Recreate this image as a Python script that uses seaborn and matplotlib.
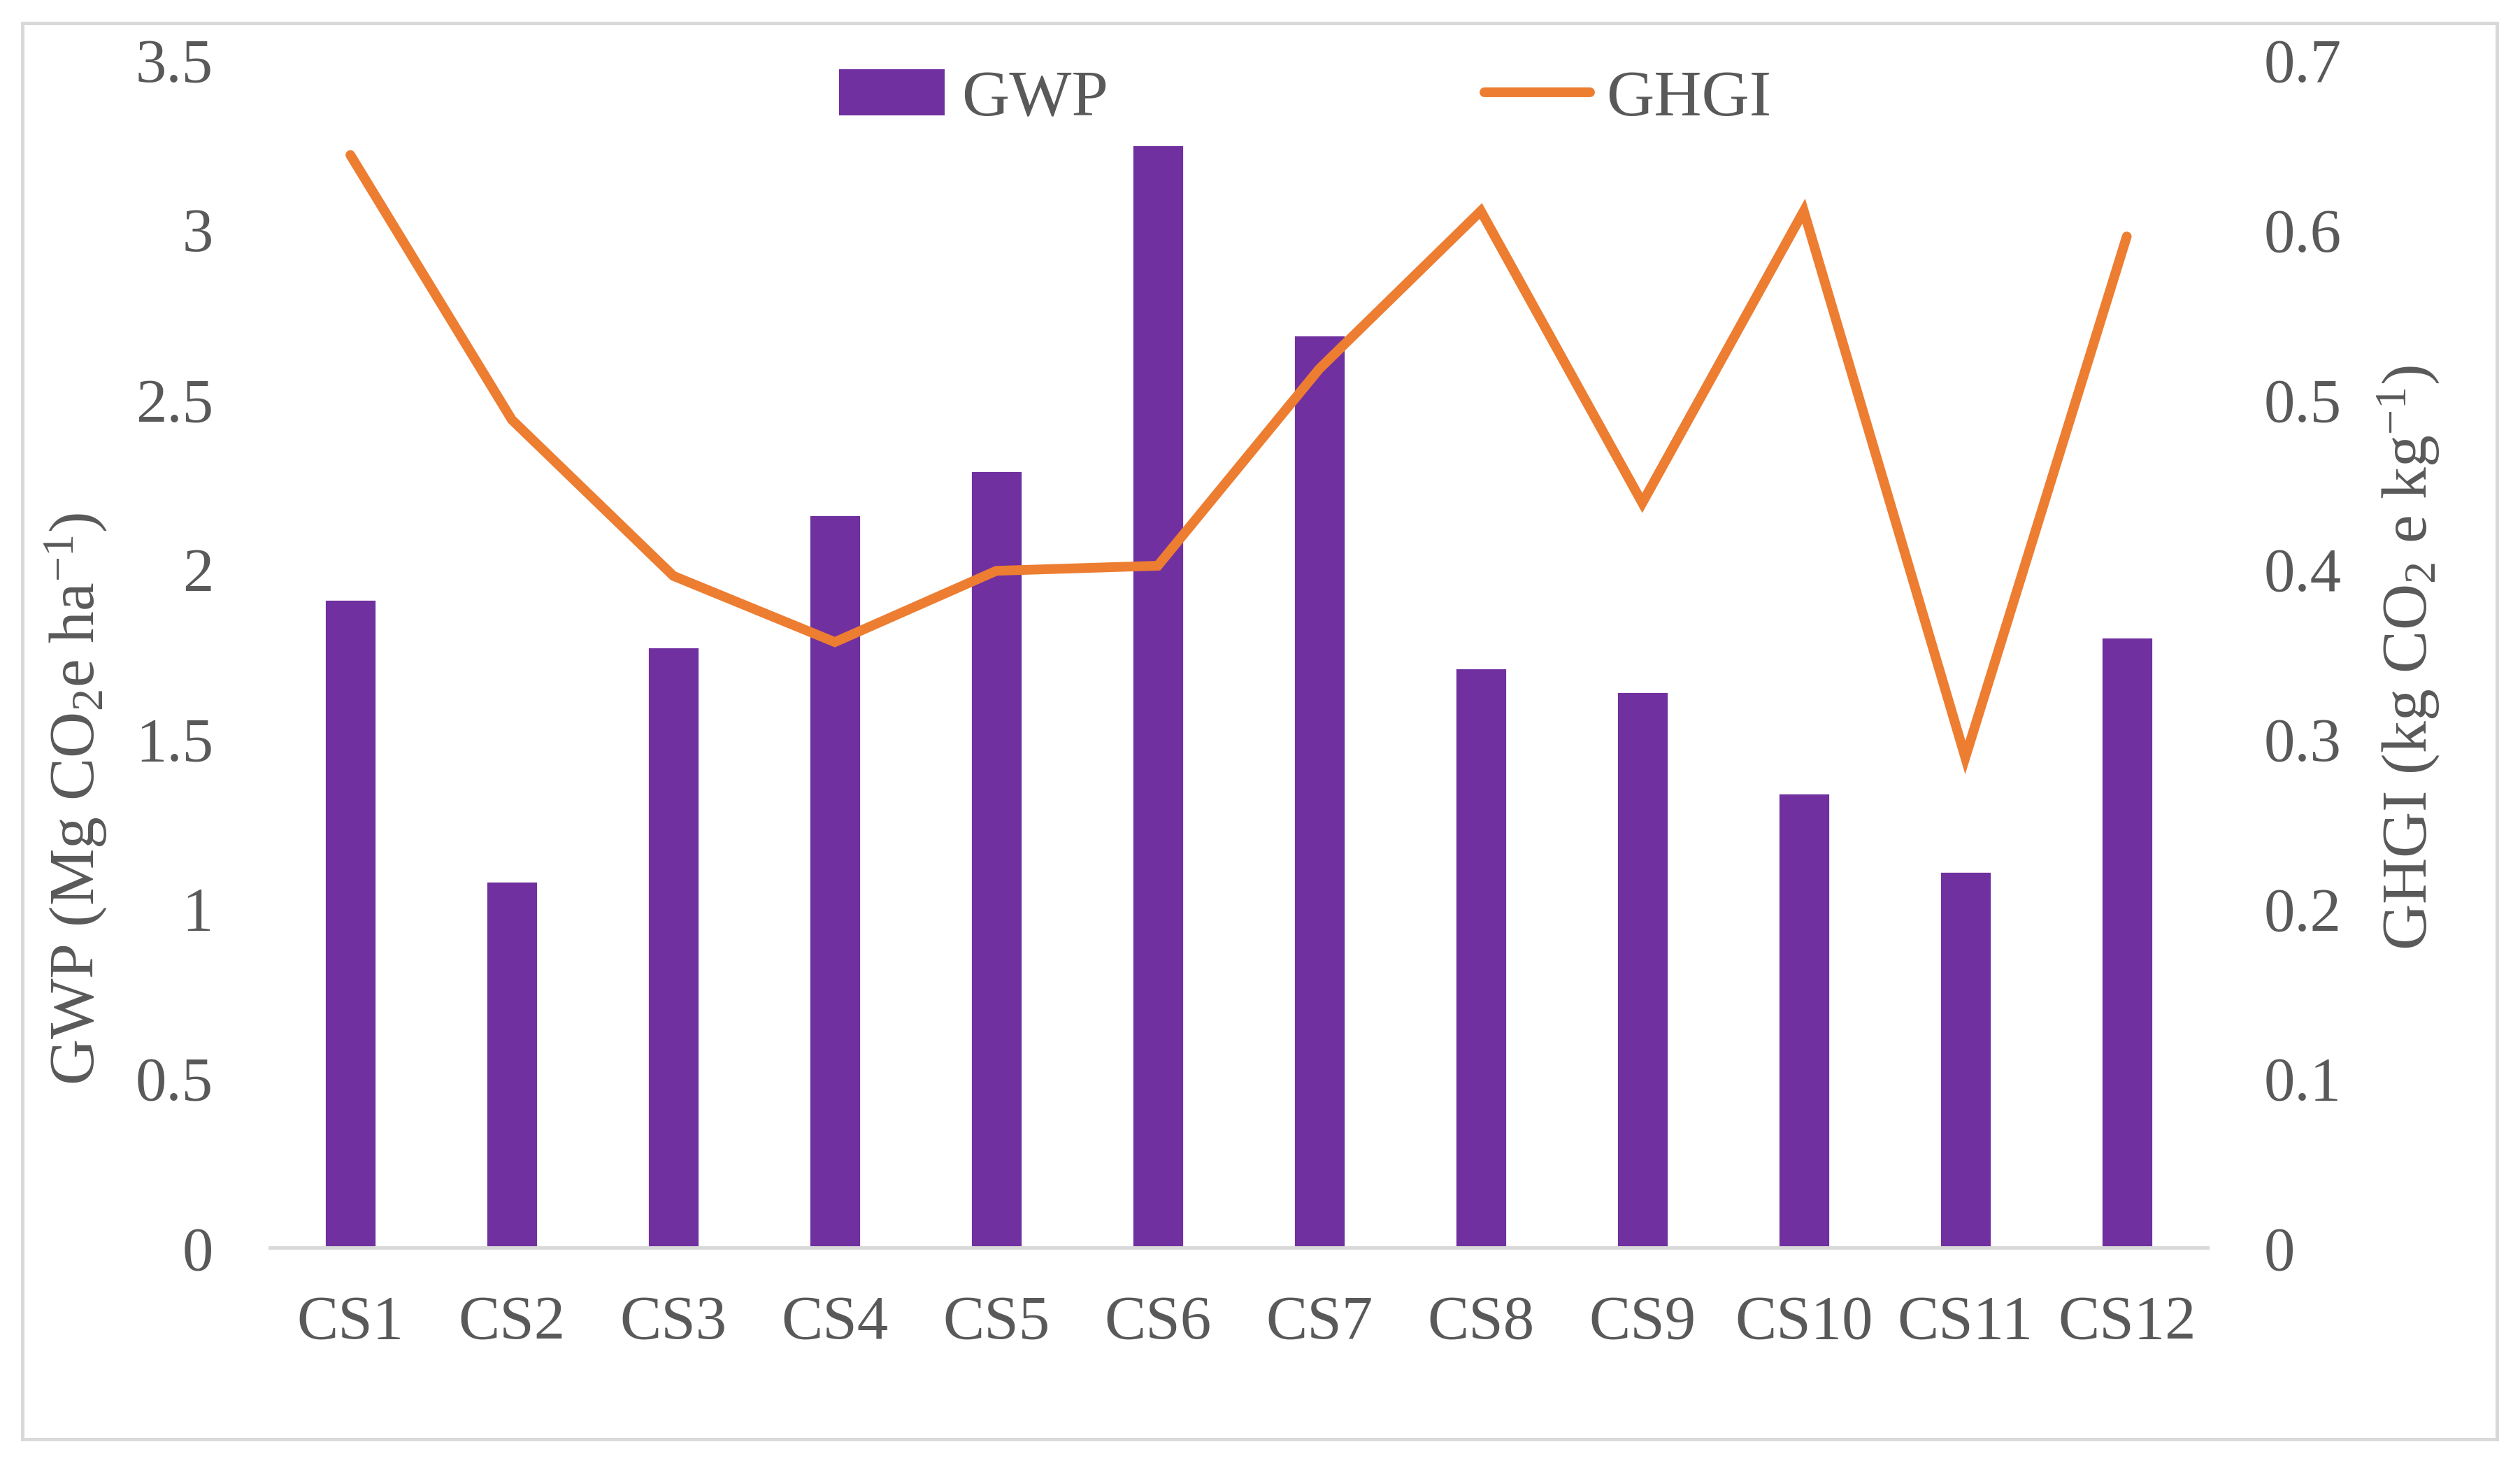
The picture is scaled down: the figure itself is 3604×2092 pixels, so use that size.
import numpy as np
import pandas as pd
import matplotlib.pyplot as plt
import seaborn as sns
from matplotlib.patches import Patch, Rectangle
from matplotlib.lines import Line2D
from matplotlib.ticker import FuncFormatter

# values
systems = ['CS1', 'CS2', 'CS3', 'CS4', 'CS5', 'CS6', 'CS7', 'CS8', 'CS9', 'CS10', 'CS11', 'CS12']
gwp = [1.91, 1.08, 1.77, 2.16, 2.29, 3.25, 2.69, 1.71, 1.64, 1.34, 1.11, 1.80]
ghgi = [0.644, 0.488, 0.396, 0.357, 0.399, 0.402, 0.518, 0.611, 0.439, 0.611, 0.289, 0.596]
left_ticks = [0, 0.5, 1, 1.5, 2, 2.5, 3, 3.5]
right_ticks = [0, 0.1, 0.2, 0.3, 0.4, 0.5, 0.6, 0.7]

df = pd.DataFrame({'system': systems, 'GWP': gwp, 'GHGI': ghgi})

sns.set_style('white')
plt.rcParams['font.family'] = ['Liberation Serif', 'DejaVu Serif']
plt.rcParams['mathtext.fontset'] = 'custom'
plt.rcParams['mathtext.rm'] = 'Liberation Serif'
plt.rcParams['mathtext.it'] = 'Liberation Serif:italic'

text_col = '#595959'
purple = '#7030A0'
orange = '#ED7D31'
grid_col = '#D9D9D9'

fig = plt.figure(figsize=(18.02, 10.46), dpi=200)
ax = fig.add_axes([0.107, 0.147, 0.769, 0.812])

sns.barplot(data=df, x='system', y='GWP', color=purple, saturation=1, width=0.32, ax=ax)

ax2 = ax.twinx()
sns.lineplot(data=df, x='system', y='GHGI', color=orange, linewidth=5, sort=False, ax=ax2)
for l in ax2.lines:
    l.set_solid_capstyle('round')
    l.set_solid_joinstyle('miter')

ax.set_xlim(-0.5, len(systems) - 0.5)
ax.set_ylim(0, 3.5)
ax2.set_ylim(0, 0.7)
ax.set_yticks(left_ticks)
ax2.set_yticks(right_ticks)
fmt = FuncFormatter(lambda v, p: '{:g}'.format(round(v, 3)))
ax.yaxis.set_major_formatter(fmt)
ax2.yaxis.set_major_formatter(fmt)

for a in (ax, ax2):
    for s in ['top', 'left', 'right', 'bottom']:
        a.spines[s].set_visible(False)
    a.tick_params(length=0, labelsize=32, labelcolor=text_col)
ax.spines['bottom'].set_visible(True)
ax.spines['bottom'].set_color(grid_col)
ax.spines['bottom'].set_linewidth(1.8)
ax.tick_params(axis='y', pad=29)
ax2.tick_params(axis='y', pad=29)
ax.tick_params(axis='x', pad=24)

ax.set_xlabel('')
ax.set_ylabel(r'GWP (Mg CO$_2$e ha$^{-1}$)', fontsize=33, color=text_col)
ax2.set_ylabel(r'GHGI (kg CO$_2$ e kg$^{-1}$)', fontsize=33, color=text_col, rotation=90)
ax.yaxis.set_label_coords(-0.083, 0.378)
ax2.yaxis.set_label_coords(1.087, 0.497)

handles = [Patch(facecolor=purple, edgecolor='none'),
           Line2D([0], [0], color=orange, linewidth=5)]
fig.legend(handles, ['GWP', 'GHGI'], loc='center', bbox_to_anchor=(0.518, 0.932),
           ncol=2, frameon=False, fontsize=34, labelcolor=text_col,
           handlelength=1.6, columnspacing=5.7, handletextpad=0.25)

# outer chart border
fig.patches.append(Rectangle((0.0089, 0.0163), 0.982, 0.968, transform=fig.transFigure,
                             fill=False, edgecolor=grid_col, linewidth=1.8))

fig.savefig('out.png', dpi=200, facecolor='white')
